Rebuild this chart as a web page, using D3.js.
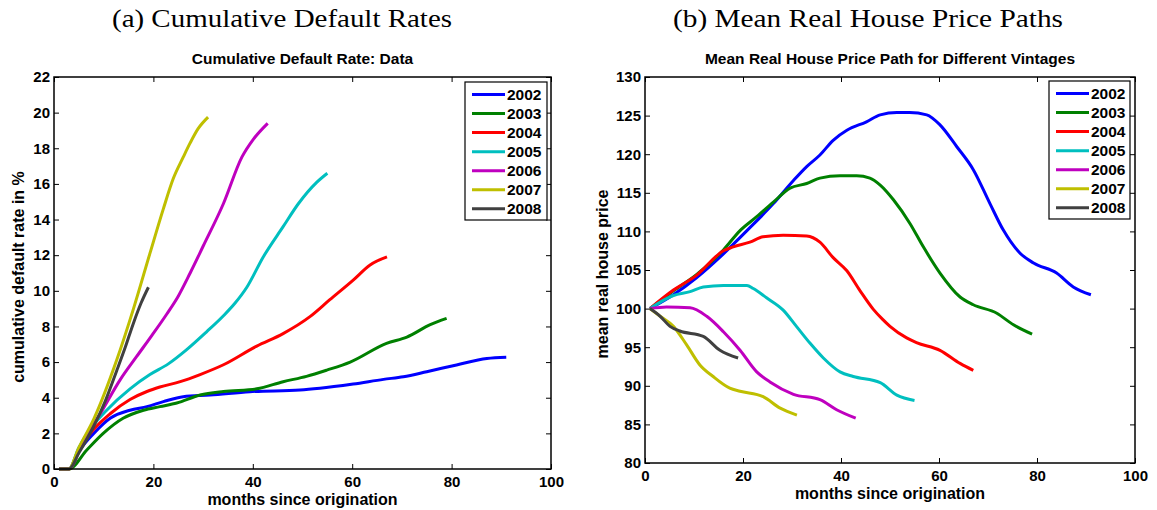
<!DOCTYPE html>
<meta charset="utf-8">
<style>
body { margin: 0; background: #fff; }
svg text { font-family: "Liberation Sans", Arial, sans-serif; }
.tick text { font-size: 15px; font-weight: bold; }
.head { font-family: "Liberation Serif", "Times New Roman", serif !important; font-size: 26px; }
.sub { font-size: 15.5px; font-weight: bold; }
.lab { font-size: 16px; font-weight: bold; }
.leg text { font-size: 15.5px; font-weight: bold; }
</style>
<body>
<svg width="1157" height="510"></svg>
<script src="https://cdn.jsdelivr.net/npm/d3@7"></script>
<script>

// vintages and colours (MATLAB default order)
var vintages = ["2002", "2003", "2004", "2005", "2006", "2007", "2008"];
var colors = ["#0000ff", "#008000", "#ff0000", "#00bfbf", "#bf00bf", "#bfbf00", "#404040"];

// panel (a): cumulative default rate, [month, percent]
var def2002 = [[1,0],[3,0],[5,1.0],[8,2.0],[11.3,2.85],[15.3,3.3],[18.7,3.5],[22,3.78],[26,4.06],[31.4,4.15],[39.4,4.34],[49.5,4.43],[53.5,4.53],[60.2,4.77],[66.3,5.03],[70.3,5.18],[75,5.46],[81,5.84],[87.1,6.2],[91,6.27]];
var def2003 = [[1,0],[3,0],[6.6,1.07],[9.9,2.0],[13.9,2.85],[18,3.3],[21.3,3.5],[24.7,3.7],[29.4,4.15],[34.1,4.35],[40.8,4.5],[46.1,4.9],[50.8,5.2],[54.9,5.55],[59.6,6.0],[66.9,7.05],[71,7.4],[75.7,8.1],[79,8.45]];
var def2004 = [[1,0],[3,0],[5,1.1],[7.9,2.2],[11.3,3.1],[15.3,3.9],[18.7,4.35],[21.3,4.6],[25.4,4.9],[29.4,5.3],[34.1,5.85],[40.8,6.9],[46.1,7.6],[51.5,8.55],[55.5,9.5],[60.2,10.6],[63.6,11.45],[67,11.9]];
var def2005 = [[1,0],[3,0],[5,1.2],[7.2,2.2],[10.6,3.3],[15.3,4.5],[19.3,5.3],[23,5.9],[26.7,6.7],[30.7,7.7],[34.1,8.6],[36.4,9.3],[38.8,10.2],[42.1,11.9],[46.1,13.6],[49.2,14.9],[52.9,16.1],[55,16.6]];
var def2006 = [[1,0],[3,0],[5.9,1.6],[9.3,3.1],[13.3,5.0],[16.6,6.3],[19.7,7.5],[22.7,8.7],[25,9.7],[27.4,11.0],[30,12.5],[34.1,14.9],[37.8,17.5],[40.1,18.5],[43,19.4]];
var def2007 = [[1,0],[3,0],[5,1.2],[8,2.8],[12.6,6.1],[16,9.0],[19.3,12.1],[22,14.6],[24,16.3],[26,17.5],[27.4,18.3],[29,19.1],[31,19.75]];
var def2008 = [[1,0],[3,0],[5,0.9],[8,2.4],[10.3,3.8],[12.6,5.5],[14.3,6.8],[16,8.2],[17.5,9.3],[19,10.2]];

// panel (b): mean real house price, [month, index]
var hp2002 = [[1,100],[5.8,101.8],[10.5,104.0],[16,107.1],[20.8,110.1],[26.2,113.6],[30.3,116.6],[33,118.4],[35.7,119.9],[38.4,121.8],[41.2,123.1],[45.2,124.2],[48,125.1],[51.4,125.4],[54,125.4],[57.5,125.1],[60.2,123.8],[63.6,121.0],[67,118.0],[70.4,113.6],[73.1,110.2],[76.5,107.2],[79.3,105.9],[84,104.6],[87.4,102.8],[91,101.8]];
var hp2003 = [[1,100],[5.8,102.3],[10.5,104.4],[16,107.6],[19.4,110.1],[22.8,111.9],[26.2,113.8],[29.6,115.6],[33,116.2],[35.7,116.9],[39.8,117.2],[43.2,117.2],[45.9,116.9],[48,116.0],[50.7,114.1],[54.1,111.0],[56.8,108.0],[60.2,104.6],[64.3,101.5],[67,100.5],[71.8,99.4],[75.2,97.9],[79,96.7]];
var hp2004 = [[1,100],[5.8,102.4],[10.5,104.3],[16,107.5],[18,108.0],[21.4,108.6],[24.1,109.3],[28.2,109.5],[33,109.4],[35.7,108.6],[38.4,106.6],[41.2,104.9],[43.9,102.3],[46.6,99.9],[48.5,98.6],[50,97.7],[53.4,96.2],[55.4,95.6],[60.2,94.6],[64.3,92.9],[67,92.0]];
var hp2005 = [[1,100],[5.8,101.7],[9.2,102.2],[11.9,102.8],[16,103.0],[20.8,103.0],[22.1,102.6],[24.8,101.4],[28.2,99.8],[30.9,97.7],[33.7,95.5],[36.4,93.6],[39.8,91.8],[42.5,91.2],[48,90.4],[51.4,88.8],[55,88.1]];
var hp2006 = [[1,100],[4.4,100.2],[9.2,100.1],[12.6,99.0],[16,97.0],[19.4,94.6],[22.8,91.8],[25.5,90.5],[30.3,88.9],[35.7,88.2],[39.1,86.9],[43,85.8]];
var hp2007 = [[1,100],[3.1,99.0],[5.8,97.7],[8.5,95.3],[11.2,92.7],[13.9,91.2],[17.3,89.7],[19.4,89.3],[24.1,88.6],[27.6,87.1],[31,86.2]];
var hp2008 = [[1,100],[3.1,99.0],[5.1,97.7],[7.1,97.1],[11.9,96.4],[15.3,94.6],[19,93.6]];

var xTicks = [0, 20, 40, 60, 80, 100];
var yTicksA = d3.range(0, 23, 2);
var yTicksB = d3.range(80, 131, 5);

var svg = d3.select("svg");

function drawPanel(p) {
  var x = d3.scaleLinear().domain([0, 100]).range([p.left, p.right]);
  var y = d3.scaleLinear().domain(p.ydomain).range([p.bottom, p.top]);
  var g = svg.append("g");

  // header (computer-modern-ish width) and title
  g.append("text").attr("class", "head").attr("x", p.headX).attr("y", 27)
      .attr("text-anchor", "middle").attr("textLength", p.headW)
      .attr("lengthAdjust", "spacingAndGlyphs").text(p.head);
  g.append("text").attr("class", "sub").attr("x", (p.left + p.right) / 2).attr("y", 64)
      .attr("text-anchor", "middle").text(p.title);

  // axes, ticks pointing inward on all four sides
  var tl = 5;
  g.append("g").attr("transform", "translate(0," + p.bottom + ")")
      .call(d3.axisBottom(x).tickValues(xTicks).tickSize(-tl).tickPadding(7));
  g.append("g").attr("transform", "translate(0," + p.top + ")")
      .call(d3.axisTop(x).tickValues(xTicks).tickSize(-tl).tickFormat(""));
  g.append("g").attr("transform", "translate(" + p.left + ",0)")
      .call(d3.axisLeft(y).tickValues(p.yticks).tickSize(-tl).tickPadding(4));
  g.append("g").attr("transform", "translate(" + p.right + ",0)")
      .call(d3.axisRight(y).tickValues(p.yticks).tickSize(-tl).tickFormat(""));
  g.selectAll(".domain").remove();
  g.selectAll(".tick line").attr("stroke", "#000").attr("stroke-width", 1);
  g.selectAll(".tick text").attr("fill", "#000");

  var line = d3.line().x(function(d) { return x(d[0]); }).y(function(d) { return y(d[1]); })
      .curve(d3.curveMonotoneX);
  p.series.forEach(function(s, i) {
    g.append("path").datum(s).attr("d", line).attr("fill", "none")
        .attr("stroke", colors[i]).attr("stroke-width", 3).attr("stroke-linejoin", "round");
  });

  g.append("rect").attr("x", p.left).attr("y", p.top)
      .attr("width", p.right - p.left).attr("height", p.bottom - p.top)
      .attr("fill", "none").attr("stroke", "#000").attr("stroke-width", 1.5);

  // axis labels
  g.append("text").attr("class", "lab").attr("x", (p.left + p.right) / 2).attr("y", p.xlabY)
      .attr("text-anchor", "middle").text("months since origination");
  g.append("text").attr("class", "lab")
      .attr("transform", "translate(" + p.ylabX + "," + ((p.top + p.bottom) / 2 + 4) + ") rotate(-90)")
      .attr("text-anchor", "middle").text(p.ylabel);

  // legend
  var leg = g.append("g").attr("class", "leg");
  leg.append("rect").attr("x", p.legX).attr("y", p.legY).attr("width", p.legW).attr("height", 138)
      .attr("fill", "#fff").attr("stroke", "#000").attr("stroke-width", 1.2);
  vintages.forEach(function(v, i) {
    var cy = p.legY + 12.5 + i * 19.05;
    leg.append("line").attr("x1", p.legX + 7).attr("x2", p.legX + 40).attr("y1", cy).attr("y2", cy)
        .attr("stroke", colors[i]).attr("stroke-width", 3);
    leg.append("text").attr("x", p.legX + 42).attr("y", cy + 5.5).text(v);
  });
}

drawPanel({
  left: 54, right: 551, top: 77, bottom: 469,
  ydomain: [0, 22], yticks: yTicksA,
  head: "(a) Cumulative Default Rates", headX: 282, headW: 340,
  title: "Cumulative Default Rate: Data",
  ylabel: "cumulative default rate in %", ylabX: 24, xlabY: 505,
  legX: 465, legY: 82, legW: 82,
  series: [def2002, def2003, def2004, def2005, def2006, def2007, def2008]
});

drawPanel({
  left: 645, right: 1135, top: 77, bottom: 463,
  ydomain: [80, 130], yticks: yTicksB,
  head: "(b) Mean Real House Price Paths", headX: 868, headW: 390,
  title: "Mean Real House Price Path for Different Vintages",
  ylabel: "mean real house price", ylabX: 608, xlabY: 499,
  legX: 1049, legY: 81, legW: 81,
  series: [hp2002, hp2003, hp2004, hp2005, hp2006, hp2007, hp2008]
});

</script>
</body>
